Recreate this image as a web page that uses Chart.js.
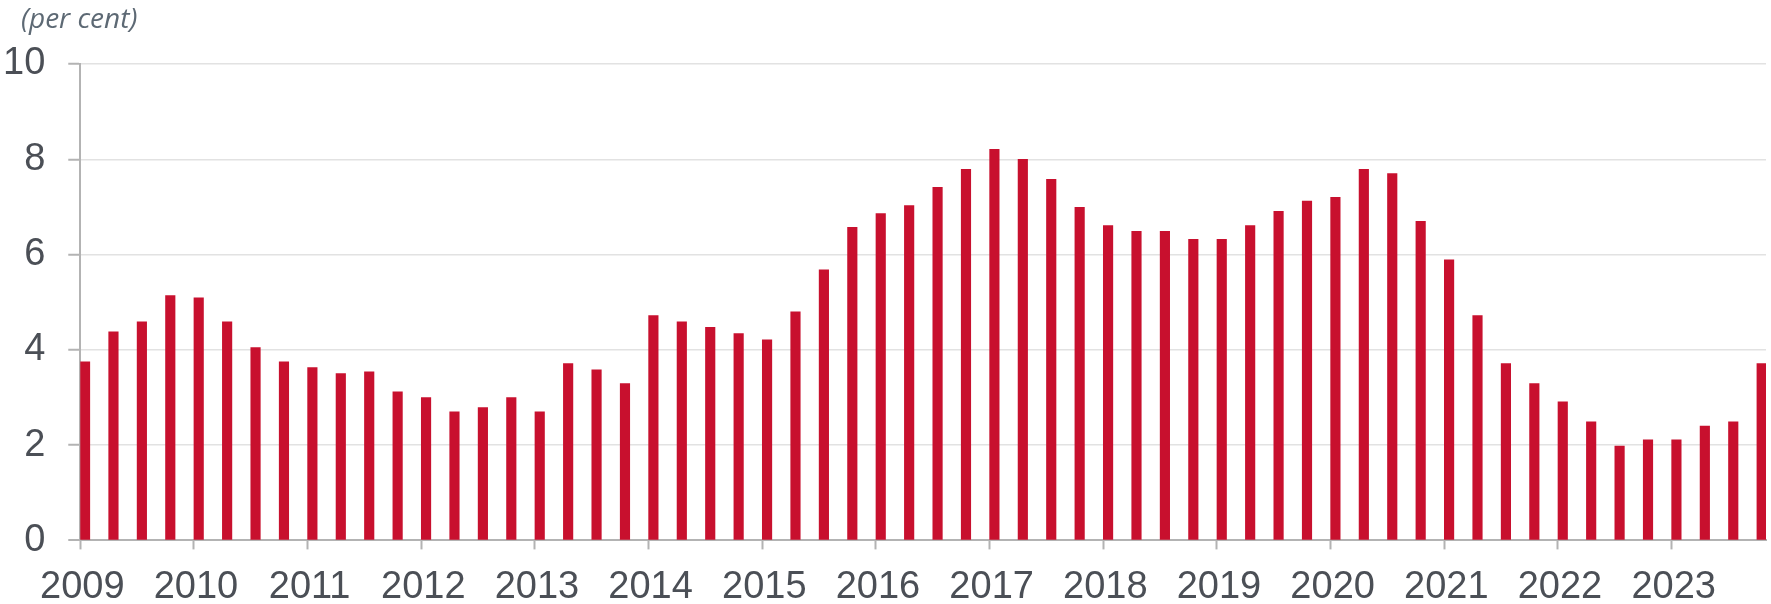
<!DOCTYPE html>
<html>
<head>
<meta charset="utf-8">
<script src="https://cdn.jsdelivr.net/npm/chart.js@4.4.1/dist/chart.umd.min.js"></script>
<style>
    body { margin: 0; background: #fff; }
    #wrap { position: relative; width: 1771px; height: 604px; }
    #unit {
        position: absolute; left: 21px; top: -2px;
        font-family: 'Open Sans', sans-serif; font-style: italic;
        font-size: 28px; color: #5d6974;
    }
</style>
</head>
<body>
<div id="wrap">
    <div id="unit">(per cent)</div>
    <canvas id="chartRate" width="1771" height="604"></canvas>
</div>
<script>
// quarterly data, 2009 Q1 .. 2023 Q4
const years = [2009, 2010, 2011, 2012, 2013, 2014, 2015, 2016, 2017, 2018, 2019, 2020, 2021, 2022, 2023]
const quarters = ['Q1', 'Q2', 'Q3', 'Q4']
const rates = [
    3.75, 4.38, 4.59, 5.14,
    5.09, 4.59, 4.05, 3.75,
    3.63, 3.50, 3.54, 3.12,
    3.00, 2.70, 2.79, 3.00,
    2.70, 3.71, 3.58, 3.29,
    4.72, 4.59, 4.47, 4.34,
    4.21, 4.80, 5.68, 6.57,
    6.86, 7.03, 7.41, 7.79,
    8.21, 8.00, 7.58, 6.99,
    6.61, 6.49, 6.49, 6.32,
    6.32, 6.61, 6.91, 7.12,
    7.20, 7.79, 7.70, 6.70,
    5.89, 4.72, 3.71, 3.29,
    2.91, 2.49, 1.98, 2.11,
    2.11, 2.40, 2.49, 3.71
]
const yTicks = [0, 2, 4, 6, 8, 10]

const red = '#c8102e'
const axisGray = '#b3b3b3'
const gridGray = '#e2e2e2'
const textGray = '#4b4f56'
const barShift = 0.042 // bars sit just right of the quarter start

let points = []
rates.forEach(function(value, index) {
    let year = years[Math.floor(index / 4)]
    let q = quarters.indexOf(quarters[index % 4])
    points.push({ x: year + q / 4 + barShift, y: value })
})

var ctx = document.getElementById('chartRate').getContext('2d')
var chart = new Chart(ctx, {
    type: 'bar',
    data: {
        datasets: [{
            label: 'per cent',
            data: points,
            backgroundColor: red,
            barThickness: 9.5
        }]
    },
    options: {
        responsive: false,
        animation: false,
        // tick padding is counted twice by Chart.js, so pull the edges back in
        layout: {
            padding: { top: 64, left: -20, right: 5, bottom: -21 }
        },
        plugins: {
            legend: { display: false },
            tooltip: { enabled: false }
        },
        scales: {
            x: {
                type: 'linear',
                offset: false,
                min: years[0],
                max: years[years.length - 1] + 0.83,
                grid: {
                    offset: false,
                    drawOnChartArea: false,
                    tickLength: 9,
                    tickColor: axisGray,
                    tickWidth: 2
                },
                border: { color: axisGray, width: 2 },
                ticks: {
                    stepSize: 1,
                    includeBounds: false,
                    autoSkip: false,
                    maxRotation: 0,
                    padding: 15,
                    labelOffset: 2,
                    color: textGray,
                    font: { family: "'Liberation Sans', Arial, sans-serif", size: 38 },
                    callback: function(value) { return String(value) }
                }
            },
            y: {
                min: yTicks[0],
                max: yTicks[yTicks.length - 1],
                grid: {
                    color: function(c) { return c.tick && c.tick.value === 0 ? axisGray : gridGray },
                    lineWidth: function(c) { return c.tick && c.tick.value === 0 ? 2 : 1.5 },
                    tickLength: 12,
                    tickColor: axisGray,
                    tickWidth: 2
                },
                border: { color: axisGray, width: 2 },
                afterBuildTicks: function(scale) {
                    scale.ticks = yTicks.map(function(v) { return { value: v } })
                },
                ticks: {
                    padding: 23,
                    color: textGray,
                    font: { family: "'Liberation Sans', Arial, sans-serif", size: 38 }
                }
            }
        }
    }
})
</script>
</body>
</html>
